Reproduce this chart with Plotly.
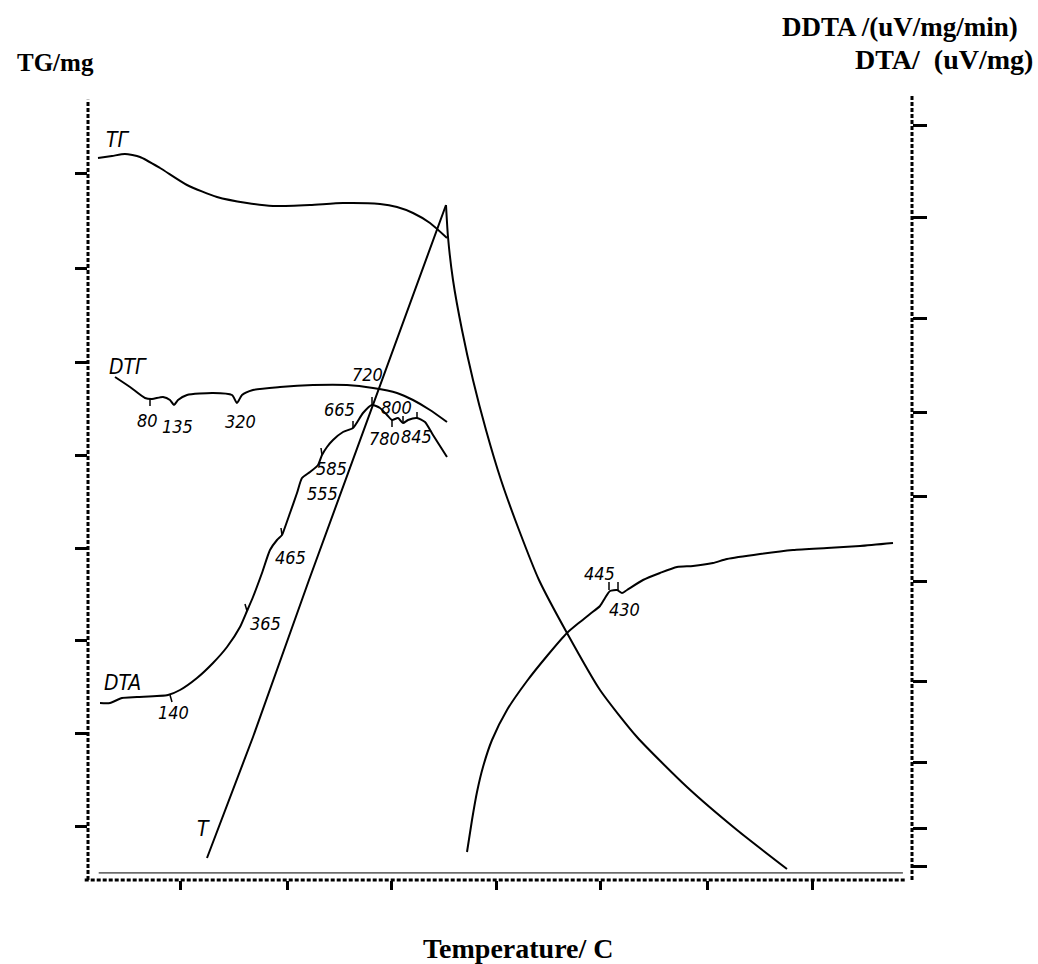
import plotly.graph_objects as go

# Chart units: x runs along the recorder base line, y upward from the base line.

# TG (ТГ) curve
tg_x = [10, 24, 37, 52, 72, 99, 129, 159, 185, 222, 255, 292, 309, 325, 342, 359]
tg_y = [722, 724, 726, 723, 712, 695, 683, 677, 674, 675, 677, 676, 673, 667, 657, 642]

# Temperature program T: heating branch (straight) up to the maximum ...
th_x = [119, 165, 221, 260, 310, 358]
th_y = [22, 143, 300, 407, 543, 675]
# ... and the cooling branch that follows it
tc_x = [358, 360, 365, 374, 385, 398, 413, 431, 451, 479, 512, 549, 599, 649, 699]
tc_y = [675, 643, 600, 550, 500, 450, 400, 350, 300, 247, 190, 143, 93, 50, 11]

# DTG (DТГ) curve
dtg_x = [27, 42, 57, 64, 75, 82, 86, 90, 99, 125, 144, 149, 154, 165, 192, 225, 259, 285, 309, 325, 342, 359]
dtg_y = [503, 493, 482, 481, 483, 480, 475, 480, 485, 487, 485, 477, 485, 490, 493, 495, 495, 492, 487, 480, 470, 458]

# DTA curve on heating
dta_x = [12, 22, 34, 49, 80, 92, 109, 125, 139, 152, 159, 165, 174, 182, 189, 194, 196, 202, 209, 214,
         222, 230, 234, 239, 245, 255, 265, 275, 284, 292, 299, 304, 310, 315, 320, 329, 337, 345, 359]
dta_y = [177, 177, 182, 183, 185, 190, 202, 217, 233, 253, 269, 283, 307, 330, 340, 345, 350, 367, 387, 402,
         408, 415, 425, 433, 440, 448, 452, 467, 475, 472, 465, 460, 462, 457, 460, 462, 458, 445, 423]

# DTA curve on cooling
cool_x = [379, 384, 389, 395, 404, 419, 439, 459, 479, 492, 502, 512, 517, 522, 529, 534, 539, 555, 572,
          589, 605, 625, 639, 672, 705, 739, 772, 805]
cool_y = [28, 60, 88, 113, 140, 170, 199, 224, 247, 258, 266, 274, 282, 289, 290, 287, 290, 300, 307,
          313, 314, 317, 321, 326, 330, 332, 334, 337]

# Short marker strokes at the annotated effects (pairs of points, None-separated)
mark_x = [62, 62, None, 82, 84, None, 159, 157, None, 194, 193, None, 234, 233, None,
          265, 265, None, 284, 284, None, 304, 304, None, 315, 315, None, 329, 329, None,
          521, 521, None, 530, 530]
mark_y = [481, 474, None, 185, 178, None, 269, 276, None, 345, 352, None, 425, 432, None,
          452, 459, None, 475, 483, None, 460, 453, None, 457, 464, None, 462, 468, None,
          290, 298, None, 290, 298]

# Curve names written beside the curves
name_text = ["TГ", "DTГ", "DTA", "T"]
name_x = [30, 40, 34, 115]
name_y = [740, 513, 197, 51]

# Effect temperatures written beside the curves
temp_text = ["80", "135", "320", "720", "665", "800", "780", "845",
             "585", "555", "465", "365", "140", "445", "430"]
temp_x = [59, 89, 152, 279, 251, 308, 296, 328, 243, 234, 202, 177, 85, 511, 536]
temp_y = [460, 454, 459, 506, 471, 473, 442, 444, 412, 387, 323, 257, 168, 307, 271]

# Axis tick positions
x_ticks = [92, 199, 303, 408, 512, 619, 724]
left_ticks = [707, 612, 518, 425, 332, 240, 147, 54]
right_ticks = [755, 663, 562, 468, 384, 299, 199, 118, 52, 14]

X_RANGE = [0, 824]
Y_RANGE = [0, 785]

smooth = dict(color="black", width=2, shape="spline", smoothing=0.6)

fig = go.Figure()
for xs, ys in [(tg_x, tg_y), (tc_x, tc_y), (dtg_x, dtg_y), (dta_x, dta_y), (cool_x, cool_y)]:
    fig.add_trace(go.Scatter(x=xs, y=ys, mode="lines", line=smooth, showlegend=False, hoverinfo="skip"))
fig.add_trace(go.Scatter(x=th_x, y=th_y, mode="lines", line=dict(color="black", width=2),
                         showlegend=False, hoverinfo="skip"))
fig.add_trace(go.Scatter(x=mark_x, y=mark_y, mode="lines", line=dict(color="black", width=1.5),
                         showlegend=False, hoverinfo="skip"))
# empty trace so the right-hand axis is drawn
fig.add_trace(go.Scatter(x=[None], y=[None], yaxis="y2", showlegend=False, hoverinfo="skip"))

hand = "DejaVu Sans Condensed, DejaVu Sans"
for txt, x, y in zip(name_text, name_x, name_y):
    fig.add_annotation(x=x, y=y, text=txt, showarrow=False, xref="x", yref="y",
                       font=dict(family=hand, size=21, color="black", style="italic"))
for txt, x, y in zip(temp_text, temp_x, temp_y):
    fig.add_annotation(x=x, y=y, text=txt, showarrow=False, xref="x", yref="y",
                       font=dict(family=hand, size=18, color="black", style="italic"))

serif = "Liberation Serif, Times New Roman, serif"
fig.add_annotation(text="TG/mg", xref="paper", yref="paper", x=-0.089, y=1.041,
                   xanchor="left", yanchor="middle", showarrow=False,
                   font=dict(family=serif, size=25, color="black", weight="bold"))
fig.add_annotation(text="DDTA /(uV/mg/min)", xref="paper", yref="paper", x=1.131, y=1.087,
                   xanchor="right", yanchor="middle", showarrow=False,
                   font=dict(family=serif, size=27, color="black", weight="bold"))
fig.add_annotation(text="DTA/  (uV/mg)", xref="paper", yref="paper", x=1.149, y=1.045,
                   xanchor="right", yanchor="middle", showarrow=False,
                   font=dict(family=serif, size=28, color="black", weight="bold"))
fig.add_annotation(text="Temperature/ C", xref="paper", yref="paper", x=0.522, y=-0.087,
                   xanchor="center", yanchor="middle", showarrow=False,
                   font=dict(family=serif, size=28, color="black", weight="bold"))

# Dashed frame of the recorder chart
dash = dict(color="black", width=3, dash="4px,2px")
fig.add_shape(type="line", xref="x domain", yref="y domain", x0=0, x1=0, y0=0, y1=0.994, line=dash)
fig.add_shape(type="line", xref="x domain", yref="y domain", x0=1, x1=1, y0=0, y1=1.0, line=dash)
fig.add_shape(type="line", xref="x domain", yref="y domain", x0=-0.004, x1=0.992, y0=0, y1=0, line=dash)
fig.add_shape(type="line", xref="x domain", yref="y domain", x0=0.013, x1=0.989, y0=0.009, y1=0.009,
              line=dict(color="black", width=1))

fig.update_layout(
    width=1038, height=964,
    margin=dict(l=88, r=126, t=95, b=84),
    paper_bgcolor="white", plot_bgcolor="white",
    xaxis=dict(range=X_RANGE, showgrid=False, zeroline=False, showline=False,
               tickmode="array", tickvals=x_ticks, ticks="outside", ticklen=9, tickwidth=3,
               tickcolor="black", showticklabels=False),
    yaxis=dict(range=Y_RANGE, showgrid=False, zeroline=False, showline=False,
               tickmode="array", tickvals=left_ticks, ticks="outside", ticklen=12, tickwidth=3,
               tickcolor="black", showticklabels=False),
    yaxis2=dict(range=Y_RANGE, overlaying="y", side="right", showgrid=False, zeroline=False,
                showline=False, tickmode="array", tickvals=right_ticks, ticks="outside", ticklen=14,
                tickwidth=3, tickcolor="black", showticklabels=False),
)

fig.write_html("out.html")
